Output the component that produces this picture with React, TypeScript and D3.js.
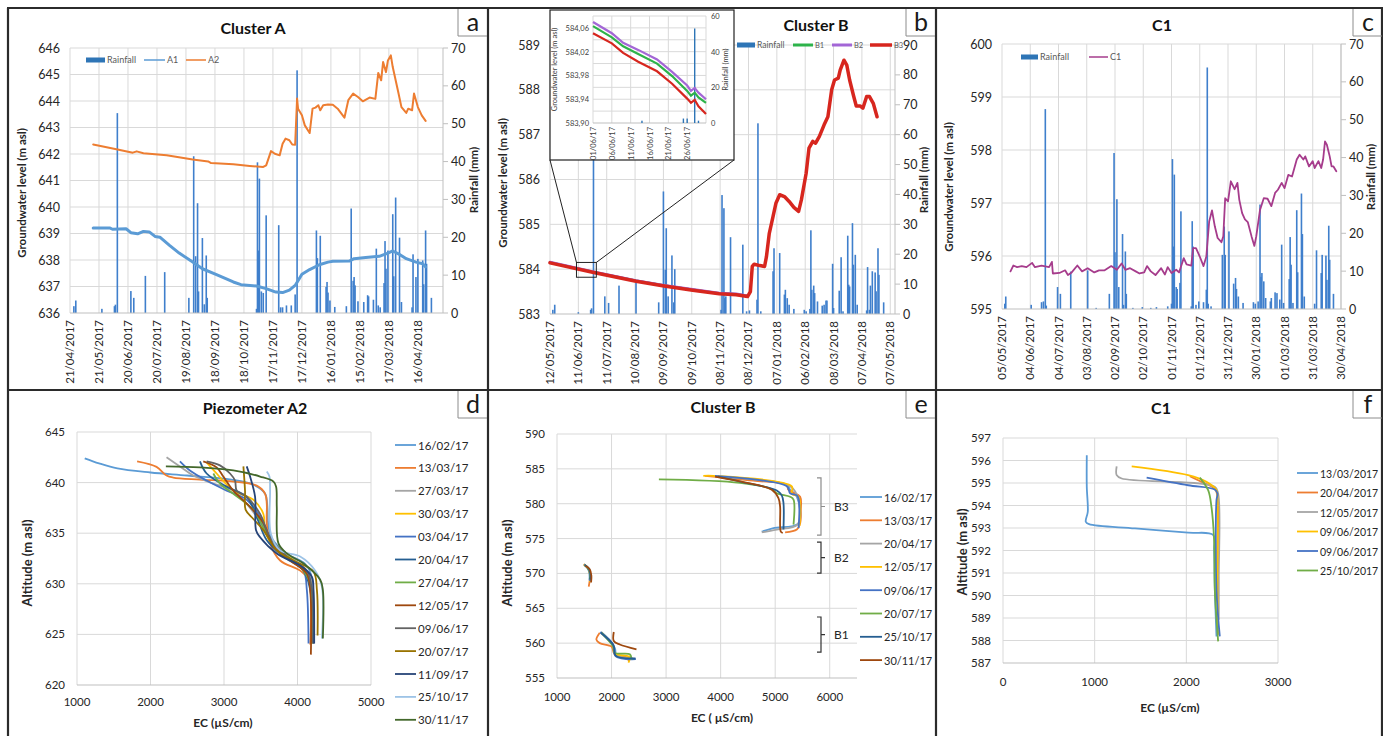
import { useEffect, useRef } from "react";
import * as d3 from "d3";

const FONT = "Lato, 'Open Sans', sans-serif";
const GRID = "#d9d9d9";
const AXIS = "#bfbfbf";
const TXT = "#262626";
const RAIN_COLOR = "#3f7fcc";

const parseISO = d3.timeParse("%Y-%m-%d");
const parseLong = d3.timeParse("%d/%m/%Y");
const parseShort = d3.timeParse("%d/%m/%y");

type Pt = [string, number];
type XY = [number, number];

// ==== panel a : Cluster A ====
const A_TICKS = ["21/04/2017", "21/05/2017", "20/06/2017", "20/07/2017", "19/08/2017", "18/09/2017", "18/10/2017", "17/11/2017", "17/12/2017", "16/01/2018", "15/02/2018", "17/03/2018", "16/04/2018"];
const A_END = "12/05/2018";
const A_GW_TICKS = [636, 637, 638, 639, 640, 641, 642, 643, 644, 645, 646];
const A_RAIN_TICKS = [0, 10, 20, 30, 40, 50, 60, 70];

const A_RAIN: Pt[] = [
  ["2017-04-25", 1.8], ["2017-04-27", 3.3], ["2017-05-24", 1.1], ["2017-06-06", 1.8], ["2017-06-07", 2.2], ["2017-06-09", 52.8],
  ["2017-06-23", 5.8], ["2017-06-26", 4.0], ["2017-07-08", 9.8], ["2017-07-28", 10.8], ["2017-08-22", 4.0], ["2017-08-27", 41.4],
  ["2017-08-29", 15.0], ["2017-08-31", 29.0], ["2017-09-01", 5.7], ["2017-09-05", 19.8], ["2017-09-07", 2.3], ["2017-09-09", 15.2],
  ["2017-09-10", 4.0], ["2017-10-31", 1.1], ["2017-11-01", 39.8], ["2017-11-02", 16.5], ["2017-11-03", 35.5], ["2017-11-05", 5.7],
  ["2017-11-07", 5.3], ["2017-11-10", 25.8], ["2017-11-23", 23.2], ["2017-11-25", 1.5], ["2017-11-27", 1.5], ["2017-12-01", 2.0],
  ["2017-12-06", 2.0], ["2017-12-10", 4.9], ["2017-12-12", 64.1], ["2018-01-01", 21.8], ["2018-01-02", 14.5], ["2018-01-05", 20.4],
  ["2018-01-11", 6.9], ["2018-01-12", 8.2], ["2018-01-13", 5.4], ["2018-01-15", 3.3], ["2018-01-20", 1.6], ["2018-02-01", 1.8],
  ["2018-02-06", 27.6], ["2018-02-08", 8.5], ["2018-02-09", 9.5], ["2018-02-10", 7.3], ["2018-02-13", 3.1], ["2018-02-19", 2.9],
  ["2018-02-23", 4.7], ["2018-02-24", 4.4], ["2018-03-01", 3.5], ["2018-03-04", 17.0], ["2018-03-06", 2.0], ["2018-03-08", 1.5],
  ["2018-03-12", 7.9], ["2018-03-13", 19.0], ["2018-03-14", 11.7], ["2018-03-16", 16.5], ["2018-03-21", 26.1], ["2018-03-22", 9.7],
  ["2018-03-24", 30.5], ["2018-03-28", 19.9], ["2018-03-30", 2.9], ["2018-04-10", 1.5], ["2018-04-11", 15.5], ["2018-04-14", 9.5],
  ["2018-04-16", 14.3], ["2018-04-21", 13.9], ["2018-04-22", 7.6], ["2018-04-24", 21.8], ["2018-04-25", 13.0], ["2018-04-30", 4.0],
];

const A1: Pt[] = [
  ["2017-05-15", 639.21], ["2017-06-01", 639.21], ["2017-06-04", 639.16], ["2017-06-18", 639.18], ["2017-06-23", 639.03],
  ["2017-06-30", 638.99], ["2017-07-06", 639.08], ["2017-07-12", 639.06], ["2017-07-18", 638.89], ["2017-07-23", 638.86],
  ["2017-08-02", 638.55], ["2017-08-12", 638.26], ["2017-08-26", 637.92], ["2017-09-05", 637.67], ["2017-09-19", 637.46],
  ["2017-10-07", 637.17], ["2017-10-15", 637.07], ["2017-10-31", 637.02], ["2017-11-10", 636.92], ["2017-11-20", 636.79],
  ["2017-11-27", 636.77], ["2017-12-04", 636.86], ["2017-12-10", 637.04], ["2017-12-17", 637.46], ["2017-12-25", 637.64],
  ["2018-01-04", 637.82], ["2018-01-13", 637.92], ["2018-01-18", 637.95], ["2018-02-04", 637.96], ["2018-02-09", 638.05],
  ["2018-02-21", 638.09], ["2018-03-07", 638.14], ["2018-03-16", 638.26], ["2018-03-21", 638.34], ["2018-03-28", 638.21],
  ["2018-04-04", 638.05], ["2018-04-14", 637.92], ["2018-04-21", 637.86], ["2018-04-24", 637.74],
];

const A2: Pt[] = [
  ["2017-05-15", 642.36], ["2017-06-08", 642.18], ["2017-06-25", 642.05], ["2017-06-29", 642.10], ["2017-07-06", 642.03],
  ["2017-07-30", 641.95], ["2017-08-26", 641.79], ["2017-09-11", 641.72], ["2017-09-14", 641.66], ["2017-10-07", 641.61],
  ["2017-10-24", 641.55], ["2017-11-07", 641.51], ["2017-11-10", 641.57], ["2017-11-13", 641.89], ["2017-11-15", 642.11],
  ["2017-11-19", 642.01], ["2017-11-24", 641.95], ["2017-11-27", 642.39], ["2017-11-30", 642.58], ["2017-12-04", 642.52],
  ["2017-12-07", 642.36], ["2017-12-10", 642.35], ["2017-12-12", 644.09], ["2017-12-13", 643.71], ["2017-12-17", 643.46],
  ["2017-12-20", 643.08], ["2017-12-25", 642.79], ["2017-12-28", 643.71], ["2017-12-31", 643.75], ["2018-01-03", 643.84],
  ["2018-01-05", 643.65], ["2018-01-08", 643.84], ["2018-01-13", 643.87], ["2018-01-18", 643.86], ["2018-01-23", 643.71],
  ["2018-01-30", 643.37], ["2018-02-03", 644.03], ["2018-02-08", 644.28], ["2018-02-13", 644.15], ["2018-02-18", 643.99],
  ["2018-02-25", 644.13], ["2018-03-03", 644.08], ["2018-03-06", 645.06], ["2018-03-09", 644.78], ["2018-03-11", 645.47],
  ["2018-03-14", 645.09], ["2018-03-16", 645.53], ["2018-03-19", 645.72], ["2018-03-21", 645.28], ["2018-03-27", 644.28],
  ["2018-03-30", 643.77], ["2018-04-04", 643.55], ["2018-04-06", 643.71], ["2018-04-10", 643.65], ["2018-04-12", 644.28],
  ["2018-04-16", 643.77], ["2018-04-20", 643.46], ["2018-04-24", 643.25],
];

// ==== panel b : Cluster B ====
const B_TICKS = ["12/05/2017", "11/06/2017", "11/07/2017", "10/08/2017", "09/09/2017", "09/10/2017", "08/11/2017", "08/12/2017", "07/01/2018", "06/02/2018", "08/03/2018", "07/04/2018", "07/05/2018"];
const B_END = "12/05/2018";
const B_GW_TICKS = [583, 584, 585, 586, 587, 588, 589];
const B_RAIN_TICKS = [0, 10, 20, 30, 40, 50, 60, 70, 80, 90];

const B_RAIN: Pt[] = [
  ["2017-05-15", 1.4], ["2017-05-17", 3.1], ["2017-06-11", 0.6], ["2017-06-24", 1.4], ["2017-06-25", 1.9], ["2017-06-27", 52],
  ["2017-07-09", 5.9], ["2017-07-13", 3.7], ["2017-07-24", 9.5], ["2017-08-11", 10.6], ["2017-09-04", 3.9], ["2017-09-09", 41.0],
  ["2017-09-11", 14.8], ["2017-09-12", 28.7], ["2017-09-14", 5.9], ["2017-09-18", 19.6], ["2017-09-20", 3.9], ["2017-09-21", 15.0],
  ["2017-11-09", 1.4], ["2017-11-10", 39.8], ["2017-11-12", 35.4], ["2017-11-13", 5.3], ["2017-11-14", 5.9], ["2017-11-19", 25.7],
  ["2017-12-02", 23.2], ["2017-12-06", 0.9], ["2017-12-09", 1.2], ["2017-12-17", 4.8], ["2017-12-18", 63.8], ["2017-12-21", 0.9],
  ["2018-01-03", 14.3], ["2018-01-04", 22.0], ["2018-01-10", 20.4], ["2018-01-15", 6.5], ["2018-01-16", 8.1], ["2018-01-18", 5.3],
  ["2018-01-20", 3.1], ["2018-01-25", 1.7], ["2018-02-05", 1.4], ["2018-02-07", 0.9], ["2018-02-11", 1.7], ["2018-02-12", 28.0],
  ["2018-02-13", 8.1], ["2018-02-15", 9.5], ["2018-02-16", 7.0], ["2018-02-19", 4.2], ["2018-02-24", 2.8], ["2018-02-26", 3.1],
  ["2018-02-28", 4.5], ["2018-03-01", 4.5], ["2018-03-07", 16.8], ["2018-03-08", 2.0], ["2018-03-14", 7.8], ["2018-03-16", 19.0],
  ["2018-03-18", 0.9], ["2018-03-23", 26.2], ["2018-03-24", 9.8], ["2018-03-25", 9.2], ["2018-03-28", 30.4], ["2018-03-29", 16.5],
  ["2018-03-31", 19.8], ["2018-04-02", 3.1], ["2018-04-12", 1.2], ["2018-04-13", 15.7], ["2018-04-15", 1.4], ["2018-04-16", 9.5],
  ["2018-04-18", 14.3], ["2018-04-21", 13.9], ["2018-04-22", 7.6], ["2018-04-24", 22.0], ["2018-04-25", 13.1], ["2018-04-30", 3.9],
];

const B1: Pt[] = [
  ["2017-05-12", 584.15], ["2017-06-26", 583.94], ["2017-08-11", 583.74], ["2017-09-08", 583.64], ["2017-10-10", 583.54],
  ["2017-11-07", 583.46], ["2017-11-25", 583.44], ["2017-12-07", 583.40],
];
const B2: Pt[] = [
  ["2017-05-12", 584.16], ["2017-06-26", 583.95], ["2017-08-11", 583.75], ["2017-09-08", 583.65], ["2017-10-10", 583.55],
  ["2017-11-07", 583.47], ["2017-11-25", 583.45], ["2017-12-07", 583.41],
];
const B3: Pt[] = [
  ["2017-05-12", 584.14], ["2017-06-26", 583.93], ["2017-08-11", 583.73], ["2017-09-08", 583.63], ["2017-10-10", 583.53],
  ["2017-11-07", 583.45], ["2017-11-25", 583.43], ["2017-12-07", 583.39], ["2017-12-10", 583.50], ["2017-12-12", 584.06],
  ["2017-12-14", 584.11], ["2017-12-20", 584.08], ["2017-12-25", 584.06], ["2017-12-27", 584.28], ["2017-12-30", 584.80],
  ["2018-01-03", 585.18], ["2018-01-06", 585.47], ["2018-01-10", 585.66], ["2018-01-15", 585.62], ["2018-01-20", 585.51],
  ["2018-01-25", 585.38], ["2018-01-30", 585.29], ["2018-02-02", 585.55], ["2018-02-07", 586.14], ["2018-02-10", 586.70],
  ["2018-02-14", 586.85], ["2018-02-17", 586.81], ["2018-02-21", 586.96], ["2018-02-26", 587.22], ["2018-03-02", 587.40],
  ["2018-03-06", 588.00], ["2018-03-09", 588.22], ["2018-03-13", 588.26], ["2018-03-15", 588.44], ["2018-03-19", 588.66],
  ["2018-03-22", 588.55], ["2018-03-25", 588.22], ["2018-03-29", 587.88], ["2018-04-01", 587.64], ["2018-04-05", 587.64],
  ["2018-04-08", 587.59], ["2018-04-12", 587.85], ["2018-04-15", 587.85], ["2018-04-19", 587.70], ["2018-04-23", 587.40],
];

// inset of panel b (June 2017)
const INSET_TICKS = ["01/06/17", "06/06/17", "11/06/17", "16/06/17", "21/06/17", "26/06/17"];
const INSET_END = "01/07/17";
const INSET_GW_TICKS = [583.9, 583.94, 583.98, 584.02, 584.06];
const INSET_GW_GRID = [583.92, 583.94, 583.96, 583.98, 584.0, 584.02, 584.04, 584.06, 584.08];
const INSET_GW_MAX = 584.08;
const INSET_RAIN_TICKS = [0, 20, 40, 60];
const INSET_RAIN: Pt[] = [["2017-06-14", 1.3], ["2017-06-25", 2.5], ["2017-06-26", 2.5], ["2017-06-28", 53], ["2017-06-29", 1.3]];
const INSET_B1: Pt[] = [
  ["2017-06-01", 584.063], ["2017-06-06", 584.044], ["2017-06-09", 584.029], ["2017-06-13", 584.016], ["2017-06-18", 584.0],
  ["2017-06-22", 583.979], ["2017-06-26", 583.954], ["2017-06-27", 583.946], ["2017-06-28", 583.951], ["2017-06-29", 583.943],
  ["2017-07-01", 583.934],
];
const INSET_B2: Pt[] = [
  ["2017-06-01", 584.07], ["2017-06-06", 584.051], ["2017-06-09", 584.035], ["2017-06-13", 584.023], ["2017-06-18", 584.007],
  ["2017-06-22", 583.986], ["2017-06-26", 583.963], ["2017-06-27", 583.954], ["2017-06-28", 583.959], ["2017-06-29", 583.951],
  ["2017-07-01", 583.94],
];
const INSET_B3: Pt[] = [
  ["2017-06-01", 584.051], ["2017-06-06", 584.034], ["2017-06-09", 584.018], ["2017-06-13", 584.003], ["2017-06-18", 583.987],
  ["2017-06-22", 583.966], ["2017-06-26", 583.941], ["2017-06-27", 583.934], ["2017-06-28", 583.939], ["2017-06-29", 583.928],
  ["2017-07-01", 583.915],
];
const ZOOM_DATES = ["2017-06-09", "2017-06-30"];
const ZOOM_LEVELS = [583.82, 584.15];

// ==== panel c : C1 ====
const C_TICKS = ["05/05/2017", "04/06/2017", "04/07/2017", "03/08/2017", "02/09/2017", "02/10/2017", "01/11/2017", "01/12/2017", "31/12/2017", "30/01/2018", "01/03/2018", "31/03/2018", "30/04/2018"];
const C_END = "30/04/2018";
const C_GW_TICKS = [595, 596, 597, 598, 599, 600];
const C_RAIN_TICKS = [0, 10, 20, 30, 40, 50, 60, 70];

const C_RAIN: Pt[] = [
  ["2017-05-08", 1.4], ["2017-05-09", 3.3], ["2017-06-05", 1.1], ["2017-06-16", 1.8], ["2017-06-18", 2.0], ["2017-06-20", 52.8],
  ["2017-06-21", 0.9], ["2017-07-03", 5.8], ["2017-07-06", 4.0], ["2017-07-17", 9.9], ["2017-08-04", 10.2], ["2017-08-13", 0.3],
  ["2017-08-27", 4.0], ["2017-09-01", 41.2], ["2017-09-02", 15.0], ["2017-09-04", 29.0], ["2017-09-06", 5.8], ["2017-09-10", 19.8],
  ["2017-09-11", 1.1], ["2017-09-13", 15.2], ["2017-09-14", 4.0], ["2017-09-21", 0.3], ["2017-10-01", 0.5], ["2017-10-10", 0.3],
  ["2017-10-16", 0.5], ["2017-10-28", 0.7], ["2017-11-01", 1.4], ["2017-11-02", 39.6], ["2017-11-03", 16.5], ["2017-11-04", 35.5],
  ["2017-11-06", 5.8], ["2017-11-07", 5.3], ["2017-11-10", 6.9], ["2017-11-11", 25.8], ["2017-11-22", 0.7], ["2017-11-23", 23.2],
  ["2017-11-24", 16.5], ["2017-11-27", 1.1], ["2017-11-30", 2.0], ["2017-12-05", 1.8], ["2017-12-08", 5.1], ["2017-12-09", 63.8],
  ["2017-12-10", 1.4], ["2017-12-13", 0.7], ["2017-12-25", 14.3], ["2017-12-27", 21.8], ["2017-12-28", 14.3], ["2018-01-01", 20.5],
  ["2018-01-06", 6.7], ["2018-01-08", 8.2], ["2018-01-09", 5.3], ["2018-01-11", 3.3], ["2018-01-16", 1.6], ["2018-01-27", 1.8],
  ["2018-01-29", 1.4], ["2018-02-01", 2.0], ["2018-02-03", 27.6], ["2018-02-04", 8.5], ["2018-02-05", 9.5], ["2018-02-07", 7.3],
  ["2018-02-09", 2.9], ["2018-02-14", 2.0], ["2018-02-15", 2.9], ["2018-02-19", 4.4], ["2018-02-21", 4.2], ["2018-02-24", 2.5],
  ["2018-02-26", 17.0], ["2018-02-28", 1.6], ["2018-03-06", 7.9], ["2018-03-07", 19.0], ["2018-03-08", 11.7], ["2018-03-10", 1.6],
  ["2018-03-14", 26.1], ["2018-03-15", 9.7], ["2018-03-19", 30.5], ["2018-03-20", 19.8], ["2018-03-22", 3.3], ["2018-04-02", 1.4],
  ["2018-04-04", 15.5], ["2018-04-09", 9.5], ["2018-04-10", 14.3], ["2018-04-14", 14.1], ["2018-04-15", 7.7], ["2018-04-17", 22.0],
  ["2018-04-18", 13.0], ["2018-04-22", 4.0],
];

const C1: Pt[] = [
  ["2017-05-14", 595.71], ["2017-05-17", 595.82], ["2017-05-21", 595.79], ["2017-05-26", 595.81], ["2017-05-31", 595.79],
  ["2017-06-06", 595.87], ["2017-06-09", 595.79], ["2017-06-16", 595.82], ["2017-06-24", 595.79], ["2017-06-27", 595.89],
  ["2017-06-28", 595.67], ["2017-07-05", 595.68], ["2017-07-11", 595.73], ["2017-07-14", 595.64], ["2017-07-18", 595.69],
  ["2017-07-24", 595.82], ["2017-07-29", 595.71], ["2017-08-04", 595.77], ["2017-08-11", 595.69], ["2017-08-16", 595.73],
  ["2017-08-22", 595.73], ["2017-08-29", 595.81], ["2017-09-04", 595.74], ["2017-09-09", 595.86], ["2017-09-13", 595.74],
  ["2017-09-18", 595.77], ["2017-09-24", 595.71], ["2017-09-28", 595.67], ["2017-10-03", 595.69], ["2017-10-06", 595.81],
  ["2017-10-10", 595.71], ["2017-10-15", 595.64], ["2017-10-21", 595.77], ["2017-10-25", 595.65], ["2017-10-28", 595.79],
  ["2017-11-01", 595.68], ["2017-11-06", 595.74], ["2017-11-09", 595.69], ["2017-11-14", 595.96], ["2017-11-17", 595.84],
  ["2017-11-22", 595.82], ["2017-11-24", 596.15], ["2017-11-27", 596.15], ["2017-12-01", 595.99], ["2017-12-05", 595.81],
  ["2017-12-08", 595.99], ["2017-12-11", 596.65], ["2017-12-14", 596.86], ["2017-12-17", 596.56], ["2017-12-20", 596.34],
  ["2017-12-24", 596.26], ["2017-12-26", 596.37], ["2017-12-28", 597.09], ["2017-12-31", 597.03], ["2018-01-03", 597.41],
  ["2018-01-07", 597.26], ["2018-01-10", 597.38], ["2018-01-12", 597.06], ["2018-01-15", 596.81], ["2018-01-18", 596.69],
  ["2018-01-21", 596.64], ["2018-01-25", 596.37], ["2018-01-28", 596.19], ["2018-01-30", 596.37], ["2018-02-03", 596.87],
  ["2018-02-07", 597.09], ["2018-02-11", 597.08], ["2018-02-15", 596.94], ["2018-02-19", 597.19], ["2018-02-22", 597.25],
  ["2018-02-26", 597.38], ["2018-03-01", 597.28], ["2018-03-05", 597.53], ["2018-03-09", 597.50], ["2018-03-14", 597.82],
  ["2018-03-17", 597.91], ["2018-03-21", 597.82], ["2018-03-23", 597.88], ["2018-03-27", 597.69], ["2018-03-31", 597.79],
  ["2018-04-02", 597.66], ["2018-04-06", 597.79], ["2018-04-09", 597.66], ["2018-04-11", 597.82], ["2018-04-13", 598.16],
  ["2018-04-15", 598.10], ["2018-04-18", 597.88], ["2018-04-20", 597.69], ["2018-04-22", 597.69], ["2018-04-25", 597.60],
];

// ==== panel d : Piezometer A2 EC profiles ====
const D_X_TICKS = [1000, 2000, 3000, 4000, 5000];
const D_Y_TICKS = [620, 625, 630, 635, 640, 645];
const D_DATES = ["16/02/17", "13/03/17", "27/03/17", "30/03/17", "03/04/17", "20/04/17", "27/04/17", "12/05/17", "09/06/17", "20/07/17", "11/09/17", "25/10/17", "30/11/17"];
const D_COLORS = ["#5b9bd5", "#ed7d31", "#a5a5a5", "#ffc000", "#4472c4", "#255e91", "#70ad47", "#9e480e", "#636363", "#997300", "#264478", "#9dc3e6", "#43682b"];
const D_PROFILES: XY[][] = [
  [[1105, 642.4], [1300, 641.9], [1550, 641.4], [2000, 641.0], [2500, 640.7], [3100, 640.3], [3400, 639.8], [3560, 638.9], [3590, 637.5], [3600, 636], [3650, 634.5], [3850, 633], [4100, 632], [4180, 631], [4190, 629], [4195, 624.6]],
  [[1818, 642.1], [2082, 641.55], [2218, 640.7], [2309, 640.5], [2673, 640.3], [3127, 640.1], [3445, 639.7], [3559, 638.9], [3582, 637.9], [3582, 636], [3627, 634], [3764, 632.3], [4036, 631.3], [4150, 630.4], [4173, 624]],
  [[2218, 642.5], [2400, 641.6], [2582, 640.7], [2855, 639.9], [3127, 639.2], [3309, 637.9], [3491, 636.1], [3627, 634.3], [3900, 632.7], [4127, 631.3], [4195, 630], [4218, 624.1]],
  [[2764, 642], [2900, 640.9], [3127, 639.2], [3400, 638.3], [3536, 636.9], [3559, 635.3], [3673, 633.7], [3945, 632.3], [4127, 631], [4195, 629.4], [4195, 624.1]],
  [[2400, 642.1], [2536, 641.2], [2764, 640.2], [3036, 639.2], [3309, 638.3], [3491, 636.6], [3627, 634.3], [3855, 632.7], [4082, 631.3], [4127, 629.4], [4150, 624.1]],
  [[2673, 642.1], [2764, 640.9], [3036, 639.6], [3309, 638.6], [3445, 636.6], [3582, 634.3], [3809, 632.7], [4082, 631.3], [4173, 629.4], [4218, 624.1]],
  [[2855, 640.9], [2945, 639.9], [3127, 638.9], [3400, 637.3], [3582, 635], [3809, 633], [4036, 631.7], [4173, 630], [4195, 624.1]],
  [[2718, 642.1], [2900, 641.5], [2991, 640.6], [3127, 639.2], [3355, 637.6], [3536, 636], [3673, 633.7], [3900, 632.3], [4127, 631], [4173, 629.4], [4182, 623]],
  [[2764, 642.1], [2945, 641.7], [3082, 640.9], [3150, 640.2], [3173, 639.2], [3309, 638.6], [3491, 636.9], [3627, 634.6], [3855, 632.7], [4127, 631.3], [4195, 629.4], [4209, 624.1]],
  [[3264, 641.6], [3286, 639.2], [3295, 637.3], [3400, 636.4], [3536, 635.3], [3718, 633.3], [3945, 632.3], [4218, 631.2], [4264, 629.4], [4273, 624.9]],
  [[3309, 641.6], [3355, 640.6], [3423, 638.6], [3436, 635.3], [3491, 634.6], [3718, 633], [4036, 631.8], [4195, 630.7], [4218, 629.4], [4227, 624.1]],
  [[3582, 641.1], [3618, 640.6], [3627, 639.2], [3636, 635], [3764, 633.3], [4036, 632.7], [4241, 631.3], [4332, 629.7], [4332, 624.6]],
  [[2209, 641.6], [2673, 641.5], [3127, 641.2], [3491, 640.6], [3673, 640.1], [3709, 639.6], [3718, 637.6], [3741, 634], [3855, 633], [4082, 632], [4309, 630.4], [4345, 629.4], [4345, 624.6]],
];

// ==== panel e : Cluster B EC profiles ====
const E_X_TICKS = [1000, 2000, 3000, 4000, 5000, 6000];
const E_X_MAX = 6500;
const E_Y_TICKS = [555, 560, 565, 570, 575, 580, 585, 590];
const E_DATES = ["16/02/17", "13/03/17", "20/04/17", "12/05/17", "09/06/17", "20/07/17", "25/10/17", "30/11/17"];
const E_COLORS = ["#5b9bd5", "#ed7d31", "#a5a5a5", "#ffc000", "#4472c4", "#70ad47", "#255e91", "#9e480e"];
const E_B3: XY[][] = [
  [[4111, 583.7], [5213, 582.7], [5274, 582.0], [5397, 581.0], [5428, 577.2], [4968, 576.5], [4754, 576.0]],
  [[3713, 584.0], [4600, 583.3], [5213, 582.7], [5240, 582.0], [5330, 581.6], [5458, 581.0], [5470, 579], [5458, 577.2], [5397, 576.3], [5182, 575.9]],
  [[3988, 583.8], [5274, 582.5], [5428, 580.6], [5409, 577.0], [5029, 576.3], [4754, 575.9]],
  [[3682, 584.0], [3866, 584.0], [5305, 582.5], [5305, 581.4], [5428, 581.0], [5446, 576.8]],
  [[3896, 584.0], [5213, 582.5], [5274, 581.5], [5409, 581.1], [5428, 576.5]],
  [[2868, 583.5], [4356, 583.0], [4938, 582.1], [5029, 581.5], [5274, 581.0], [5336, 580.6], [5336, 577.0]],
  [[3950, 583.9], [4400, 583.1], [5029, 581.9], [5121, 581.2], [5152, 580.1], [5152, 576.3]],
  [[3900, 583.9], [4356, 583.2], [4938, 582.0], [5060, 580.8], [5090, 579.6], [5103, 576.0], [5139, 575.8]],
];
const E_B2: XY[][] = [
  [[1500, 571.2], [1560, 570.8], [1595, 569.9], [1595, 569.0]],
  [[1490, 571.3], [1565, 570.8], [1610, 569.8], [1598, 568.9], [1582, 568.1]],
  [[1495, 571.2], [1570, 570.7], [1605, 569.8], [1600, 569.0]],
  [[1492, 571.3], [1568, 570.8], [1608, 569.7], [1602, 568.8]],
  [[1500, 571.3], [1575, 570.6], [1615, 569.8], [1605, 568.9]],
  [[1505, 571.2], [1580, 570.6], [1610, 569.9], [1600, 569.2]],
  [[1510, 571.2], [1585, 570.7], [1612, 569.9], [1608, 569.1]],
  [[1520, 571.1], [1600, 570.6], [1630, 569.7], [1625, 568.7]],
];
const E_B1: XY[][] = [
  [[1845, 561.2], [2059, 559.3], [2090, 558.3], [2274, 558.1]],
  [[1784, 561.5], [1722, 560.5], [1784, 560.0], [2000, 559.5], [2041, 558.6], [2090, 558.1], [2335, 557.9], [2304, 557.4]],
  [[1810, 561.6], [2020, 559.8], [2070, 558.3], [2400, 557.8]],
  [[1820, 561.4], [2030, 559.6], [2065, 558.5], [2330, 558.0], [2310, 557.2]],
  [[1796, 561.6], [2029, 559.8], [2078, 558.1], [2445, 557.7]],
  [[1814, 561.5], [2029, 559.5], [2059, 558.6], [2335, 558.4], [2365, 557.6]],
  [[1800, 561.5], [2035, 559.7], [2075, 558.2], [2440, 557.8]],
  [[2041, 561.6], [2041, 560.3], [2151, 559.8], [2457, 559.1]],
];
const E_GROUPS = ["B3", "B2", "B1"];
const E_GROUP_RANGES: XY[] = [[575.5, 583.7], [570.05, 574.5], [558.7, 563.75]];

// ==== panel f : C1 EC profiles ====
const F_X_TICKS = [0, 1000, 2000, 3000];
const F_Y_TICKS = [587, 588, 589, 590, 591, 592, 593, 594, 595, 596, 597];
const F_DATES = ["13/03/2017", "20/04/2017", "12/05/2017", "09/06/2017", "09/06/2017", "25/10/2017"];
const F_COLORS = ["#5b9bd5", "#ed7d31", "#a5a5a5", "#ffc000", "#4472c4", "#70ad47"];
const F_PROFILES: XY[][] = [
  [[914, 596.23], [914, 594.83], [925, 593.72], [903, 593.28], [939, 593.17], [1440, 592.98], [2020, 592.79], [2292, 592.69], [2303, 592.02], [2311, 590.25], [2329, 588.18]],
  [[2038, 595.3], [2165, 595.05], [2310, 594.75], [2340, 594.39], [2340, 591.73], [2347, 588.77]],
  [[1240, 595.74], [1240, 595.35], [1295, 595.2], [2310, 594.83], [2347, 594.53], [2354, 590.84], [2354, 588.92]],
  [[1404, 595.74], [2020, 595.35], [2220, 595.05], [2329, 594.68], [2340, 594.24], [2340, 590.25], [2347, 588.26]],
  [[1567, 595.24], [2020, 594.9], [2310, 594.71], [2340, 594.53], [2329, 594.24], [2329, 590.25], [2365, 588.18]],
  [[2147, 595.24], [2238, 594.68], [2274, 593.94], [2303, 592.47], [2311, 590.25], [2347, 587.96]],
];

function addText(g: any, x: number, y: number, s: string, o: any = {}) {
  const t = g.append("text")
    .attr("x", x).attr("y", y)
    .attr("font-family", FONT)
    .attr("font-size", o.size ?? 12)
    .attr("font-weight", o.bold ? 700 : 400)
    .attr("fill", o.fill ?? TXT)
    .attr("text-anchor", o.anchor ?? "start")
    .text(s);
  if (o.rotate) t.attr("transform", `rotate(${o.rotate},${x},${y})`);
  if (o.dy) t.attr("dy", o.dy);
  return t;
}

function drawTimePanel(svg: any, p: any) {
  const { L, R, T, B } = p.box;
  const g = svg.append("g");
  const x = d3.scaleTime().domain([parseLong(p.ticks[0])!, parseLong(p.end)!]).range([L, R]);
  const y = d3.scaleLinear().domain(d3.extent(p.gwTicks) as any).range([B, T]);
  const yr = d3.scaleLinear().domain(d3.extent(p.rainTicks) as any).range([B, T]);

  g.append("g").selectAll("line").data(p.gwTicks.slice(1)).join("line")
    .attr("x1", L).attr("x2", R).attr("y1", (d: number) => y(d)).attr("y2", (d: number) => y(d))
    .attr("stroke", GRID).attr("stroke-width", 1);
  g.append("g").selectAll("line").data(p.ticks).join("line")
    .attr("x1", (d: string) => x(parseLong(d)!)).attr("x2", (d: string) => x(parseLong(d)!))
    .attr("y1", T).attr("y2", B)
    .attr("stroke", GRID).attr("stroke-width", 1);

  // rainfall bars
  g.append("g").selectAll("rect").data(p.rain).join("rect")
    .attr("x", (d: Pt) => x(parseISO(d[0])!) - 0.8)
    .attr("width", 1.6)
    .attr("y", (d: Pt) => yr(d[1]))
    .attr("height", (d: Pt) => B - yr(d[1]))
    .attr("fill", RAIN_COLOR);

  const line = d3.line<Pt>().x((d) => x(parseISO(d[0])!)).y((d) => y(d[1]));
  p.lines.forEach((l: any) => {
    g.append("path").datum(l.data).attr("d", line)
      .attr("fill", "none").attr("stroke", l.color).attr("stroke-width", l.width)
      .attr("stroke-linejoin", "round").attr("stroke-linecap", "round");
  });

  // axes
  g.append("line").attr("x1", L).attr("x2", R).attr("y1", B).attr("y2", B).attr("stroke", AXIS);
  g.append("line").attr("x1", R).attr("x2", R).attr("y1", T).attr("y2", B).attr("stroke", AXIS);
  g.append("g").selectAll("line").data(p.rainTicks).join("line")
    .attr("x1", R).attr("x2", R + 5).attr("y1", (d: number) => yr(d)).attr("y2", (d: number) => yr(d))
    .attr("stroke", AXIS);

  p.gwTicks.forEach((v: number) => addText(g, L - 10, y(v) + 4.5, String(v), { anchor: "end", size: 12.5 }));
  p.rainTicks.forEach((v: number) => addText(g, R + 8, yr(v) + 4.5, String(v), { size: 12.5 }));
  p.ticks.forEach((s: string) => {
    const xx = x(parseLong(s)!);
    addText(g, xx + 4, B + 7, s, { anchor: "end", size: 11.5, rotate: -90 });
  });

  addText(g, p.leftTitle[0], p.leftTitle[1], "Groundwater level (m asl)", { anchor: "middle", size: 11.5, bold: true, rotate: -90 });
  addText(g, p.rightTitle[0], p.rightTitle[1], "Rainfall (mm)", { anchor: "middle", size: 11.5, bold: true, rotate: -90 });
  addText(g, p.title[0], p.title[1], p.title[2], { anchor: "middle", size: 16, bold: true, fill: "#111" });

  // legend
  p.legend.forEach((it: any) => {
    if (it.kind === "bar") {
      g.append("rect").attr("x", it.x).attr("y", p.legendY - 2.5).attr("width", it.len).attr("height", 5).attr("fill", "#2e75b6");
    } else {
      g.append("line").attr("x1", it.x).attr("x2", it.x + it.len).attr("y1", p.legendY).attr("y2", p.legendY)
        .attr("stroke", it.color).attr("stroke-width", it.w);
    }
    addText(g, it.x + it.len + 2, p.legendY + 3, it.label, { size: it.size ?? 9, fill: "#595959" });
  });
  return { x, y, yr };
}

function drawInset(svg: any, sc: any) {
  const box = { x0: 550, y0: 10, x1: 734, y1: 160 };
  const L = 593, R = 706, T = 16, B = 123;
  const g = svg.append("g");
  // connector lines and zoom box in the main plot
  const zx0 = sc.x(parseISO(ZOOM_DATES[0])!), zx1 = sc.x(parseISO(ZOOM_DATES[1])!);
  const zy0 = sc.y(ZOOM_LEVELS[1]), zy1 = sc.y(ZOOM_LEVELS[0]);
  g.append("rect").attr("x", zx0).attr("y", zy0).attr("width", zx1 - zx0).attr("height", zy1 - zy0)
    .attr("fill", "none").attr("stroke", "#222").attr("stroke-width", 1);
  g.append("line").attr("x1", zx0).attr("y1", zy0).attr("x2", box.x0).attr("y2", box.y1).attr("stroke", "#222");
  g.append("line").attr("x1", zx1).attr("y1", zy0).attr("x2", box.x1).attr("y2", box.y1).attr("stroke", "#222");

  g.append("rect").attr("x", box.x0).attr("y", box.y0).attr("width", box.x1 - box.x0).attr("height", box.y1 - box.y0)
    .attr("fill", "#fff").attr("stroke", "#222").attr("stroke-width", 1.2);

  const x = d3.scaleTime().domain([parseShort(INSET_TICKS[0])!, parseShort(INSET_END)!]).range([L, R]);
  const y = d3.scaleLinear().domain([INSET_GW_TICKS[0], INSET_GW_MAX]).range([B, T]);
  const yr = d3.scaleLinear().domain(d3.extent(INSET_RAIN_TICKS) as any).range([B, T]);

  g.append("g").selectAll("line").data(INSET_GW_GRID).join("line")
    .attr("x1", L).attr("x2", R).attr("y1", (d: number) => y(d)).attr("y2", (d: number) => y(d)).attr("stroke", GRID);
  g.append("g").selectAll("line").data([...INSET_TICKS, INSET_END]).join("line")
    .attr("x1", (d: string) => x(parseShort(d)!)).attr("x2", (d: string) => x(parseShort(d)!))
    .attr("y1", T).attr("y2", B).attr("stroke", GRID);
  g.append("line").attr("x1", L).attr("x2", R).attr("y1", B).attr("y2", B).attr("stroke", AXIS);

  g.append("g").selectAll("rect").data(INSET_RAIN).join("rect")
    .attr("x", (d: Pt) => x(parseISO(d[0])!) - 0.7).attr("width", 1.4)
    .attr("y", (d: Pt) => yr(d[1])).attr("height", (d: Pt) => B - yr(d[1]))
    .attr("fill", "#2e75b6");

  const line = d3.line<Pt>().x((d) => x(parseISO(d[0])!)).y((d) => y(d[1]));
  [[INSET_B2, "#a366d6"], [INSET_B1, "#2db34a"], [INSET_B3, "#d7261e"]].forEach(([data, c]: any) => {
    g.append("path").datum(data).attr("d", line).attr("fill", "none").attr("stroke", c).attr("stroke-width", 2.2);
  });

  INSET_GW_TICKS.forEach((v) => addText(g, L - 4, y(v) + 3, d3.format(".2f")(v).replace(".", ","), { anchor: "end", size: 7.5, fill: "#404040" }));
  INSET_RAIN_TICKS.forEach((v) => addText(g, R + 5, yr(v) + 3, String(v), { size: 7.5, fill: "#404040" }));
  INSET_TICKS.forEach((s) => addText(g, x(parseShort(s)!) + 3, B + 4, s, { anchor: "end", size: 7.5, rotate: -90, fill: "#404040" }));
  addText(g, 557, (T + B) / 2, "Groundwater level (m asl)", { anchor: "middle", size: 7.5, rotate: -90, fill: "#404040" });
  addText(g, 728, (T + B) / 2, "Rainfall (mm)", { anchor: "middle", size: 7.5, rotate: -90, fill: "#404040" });
}

function drawProfilePanel(svg: any, p: any) {
  const { L, R, T, B } = p.box;
  const g = svg.append("g");
  const x = d3.scaleLinear().domain([p.xTicks[0], p.xMax]).range([L, R]);
  const y = d3.scaleLinear().domain(d3.extent(p.yTicks) as any).range([B, T]);

  g.append("g").selectAll("line").data(p.yTicks.slice(1)).join("line")
    .attr("x1", L).attr("x2", R).attr("y1", (d: number) => y(d)).attr("y2", (d: number) => y(d))
    .attr("stroke", GRID);
  g.append("g").selectAll("line").data(p.xTicks).join("line")
    .attr("x1", (d: number) => x(d)).attr("x2", (d: number) => x(d)).attr("y1", T).attr("y2", B)
    .attr("stroke", GRID);
  g.append("line").attr("x1", L).attr("x2", R).attr("y1", B).attr("y2", B).attr("stroke", AXIS);

  const line = d3.line<XY>().x((d) => x(d[0])).y((d) => y(d[1])).curve(d3.curveCatmullRom.alpha(0.5));
  p.series.forEach((s: any) => {
    s.segs.forEach((seg: XY[]) => {
      g.append("path").datum(seg).attr("d", line).attr("fill", "none")
        .attr("stroke", s.color).attr("stroke-width", 1.8).attr("stroke-linejoin", "round");
    });
  });

  p.yTicks.forEach((v: number) => addText(g, L - 12, y(v) + 4, String(v), { anchor: "end", size: 11.5 }));
  p.xTicks.forEach((v: number) => addText(g, x(v), B + p.xLabelGap, String(v), { anchor: "middle", size: 11.5 }));

  addText(g, p.title[0], p.title[1], p.title[2], { anchor: "middle", size: 16, bold: true, fill: "#111" });
  addText(g, p.yTitle[0], p.yTitle[1], "Altitude (m asl)", { anchor: "middle", size: 13, bold: true, rotate: -90, dy: "0.35em" });
  addText(g, p.xTitle[0], p.xTitle[1], p.xTitle[2], { anchor: "middle", size: 12, bold: true });

  p.series.forEach((s: any, i: number) => {
    const yy = p.legend.y0 + i * p.legend.dy;
    g.append("line").attr("x1", p.legend.x).attr("x2", p.legend.x + p.legend.len).attr("y1", yy).attr("y2", yy)
      .attr("stroke", s.color).attr("stroke-width", 1.8);
    addText(g, p.legend.x + p.legend.len + 2, yy + 4.5, s.label, { size: p.legend.size });
  });
  return { x, y };
}

export default function App() {
  const svgRef = useRef<SVGSVGElement | null>(null);

  useEffect(() => {
    const svg = d3.select(svgRef.current);
    svg.selectAll("*").remove();
    svg.append("rect").attr("width", 1383).attr("height", 736).attr("fill", "#fff");

    drawTimePanel(svg, {
      box: { L: 70, R: 443, T: 48, B: 313 },
      ticks: A_TICKS, end: A_END, gwTicks: A_GW_TICKS, rainTicks: A_RAIN_TICKS, rain: A_RAIN,
      lines: [{ data: A1, color: "#5b9bd5", width: 3 }, { data: A2, color: "#ed7d31", width: 2 }],
      leftTitle: [26, 193], rightTitle: [478, 180], title: [253, 34, "Cluster A"],
      legendY: 60,
      legend: [
        { kind: "bar", x: 86, len: 19, label: "Rainfall" },
        { kind: "line", x: 144, len: 21, label: "A1", color: "#5b9bd5", w: 1.5 },
        { kind: "line", x: 186, len: 20, label: "A2", color: "#ed7d31", w: 1.5 },
      ],
    });

    const sb = drawTimePanel(svg, {
      box: { L: 550, R: 895, T: 45, B: 314 },
      ticks: B_TICKS, end: B_END, gwTicks: B_GW_TICKS, rainTicks: B_RAIN_TICKS, rain: B_RAIN,
      lines: [
        { data: B1, color: "#2db34a", width: 2.5 },
        { data: B2, color: "#a366d6", width: 2.5 },
        { data: B3, color: "#d7261e", width: 3.5 },
      ],
      leftTitle: [507, 183], rightTitle: [928, 180], title: [816, 31, "Cluster B"],
      legendY: 45,
      legend: [
        { kind: "bar", x: 737, len: 18, label: "Rainfall", size: 8.5 },
        { kind: "line", x: 793, len: 20, label: "B1", color: "#2db34a", w: 3, size: 7.5 },
        { kind: "line", x: 832, len: 20, label: "B2", color: "#a366d6", w: 3, size: 7.5 },
        { kind: "line", x: 870, len: 22, label: "B3", color: "#d7261e", w: 3.5, size: 7.5 },
      ],
    });
    drawInset(svg, sb);

    drawTimePanel(svg, {
      box: { L: 1002, R: 1341, T: 44, B: 309 },
      ticks: C_TICKS, end: C_END, gwTicks: C_GW_TICKS, rainTicks: C_RAIN_TICKS, rain: C_RAIN,
      lines: [{ data: C1, color: "#a63c8c", width: 1.8 }],
      leftTitle: [953, 187], rightTitle: [1375, 177], title: [1162, 31, "C1"],
      legendY: 57,
      legend: [
        { kind: "bar", x: 1021, len: 17, label: "Rainfall" },
        { kind: "line", x: 1089, len: 19, label: "C1", color: "#a63c8c", w: 1.5 },
      ],
    });

    drawProfilePanel(svg, {
      box: { L: 77, R: 371, T: 432, B: 685 },
      xTicks: D_X_TICKS, xMax: D_X_TICKS[D_X_TICKS.length - 1], yTicks: D_Y_TICKS, xLabelGap: 21,
      series: D_DATES.map((d, i) => ({ label: d, color: D_COLORS[i], segs: [D_PROFILES[i]] })),
      title: [255, 414, "Piezometer A2"], yTitle: [27, 563], xTitle: [223, 727, "EC (µS/cm)"],
      legend: { x: 395, y0: 445, dy: 22.9, len: 21, size: 11.5 },
    });

    const pe = drawProfilePanel(svg, {
      box: { L: 557, R: 857, T: 434, B: 678 },
      xTicks: E_X_TICKS, xMax: E_X_MAX, yTicks: E_Y_TICKS, xLabelGap: 23,
      series: E_DATES.map((d, i) => ({ label: d, color: E_COLORS[i], segs: [E_B3[i], E_B2[i], E_B1[i]] })),
      title: [723, 413, "Cluster B"], yTitle: [507, 563], xTitle: [722, 722, "EC ( µS/cm)"],
      legend: { x: 860, y0: 497, dy: 23.3, len: 22, size: 11 },
    });
    // B3 / B2 / B1 brackets
    const bg = svg.append("g");
    E_GROUPS.forEach((name, i) => {
      const [lo, hi] = E_GROUP_RANGES[i];
      const y0 = pe.y(hi), y1 = pe.y(lo), bx = 821;
      bg.append("path")
        .attr("d", `M${bx - 4},${y0}H${bx}V${y1}H${bx - 4}M${bx},${(y0 + y1) / 2}H${bx + 4}`)
        .attr("fill", "none").attr("stroke", i === 0 ? "#8c8c8c" : "#333").attr("stroke-width", 1.2);
      addText(bg, bx + 13, (y0 + y1) / 2 + 4.5, name, { size: 12 });
    });

    drawProfilePanel(svg, {
      box: { L: 1003, R: 1278, T: 438, B: 663 },
      xTicks: F_X_TICKS, xMax: F_X_TICKS[F_X_TICKS.length - 1], yTicks: F_Y_TICKS, xLabelGap: 23,
      series: F_DATES.map((d, i) => ({ label: d, color: F_COLORS[i], segs: [F_PROFILES[i]] })),
      title: [1161, 414, "C1"], yTitle: [962, 552], xTitle: [1170, 712, "EC (µS/cm)"],
      legend: { x: 1297, y0: 473, dy: 19.5, len: 21, size: 10.5 },
    });

    // frame lines and panel letters
    const fr = svg.append("g");
    const frame = [
      [7, 8, 1383, 8], [8, 8, 8, 736], [488, 8, 488, 736], [936, 8, 936, 736], [7, 390, 1383, 390], [1382, 8, 1382, 736],
    ];
    fr.selectAll("line").data(frame).join("line")
      .attr("x1", (d: number[]) => d[0]).attr("y1", (d: number[]) => d[1])
      .attr("x2", (d: number[]) => d[2]).attr("y2", (d: number[]) => d[3])
      .attr("stroke", "#2b2b2b").attr("stroke-width", 2.2);
    const letters: [string, number, number][] = [["a", 458, 9], ["b", 906, 9], ["c", 1353, 9], ["d", 458, 391], ["e", 906, 391], ["f", 1353, 391]];
    letters.forEach(([s, lx, ly]) => {
      fr.append("path").attr("d", `M${lx},${ly}V${ly + 27}H${lx + 29}`).attr("fill", "none").attr("stroke", "#8c8c8c").attr("stroke-width", 1);
      addText(fr, lx + 15, ly + 22, s, { anchor: "middle", size: 25, fill: "#1a1a1a" });
    });
  }, []);

  return (
    <svg ref={svgRef} width={1383} height={736}
      style={{ position: "absolute", left: 0, top: 0, display: "block" }} />
  );
}
